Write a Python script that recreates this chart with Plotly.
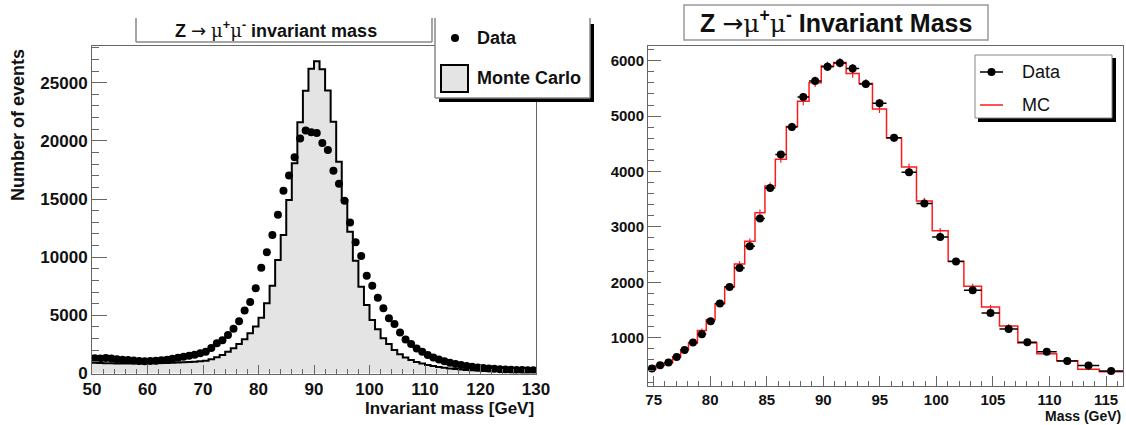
import numpy as np
import plotly.graph_objects as go

W, H = 1126, 425

# ---------------- Left panel: Z -> mu mu invariant mass (1 GeV bins, 50-130) ----------------
left_edges = list(range(50, 131))
left_data = [
    1320, 1300, 1330, 1280, 1220, 1180, 1150, 1120, 1080, 1060,
    1080, 1100, 1130, 1190, 1260, 1360, 1440, 1520, 1610, 1740,
    1880, 2200, 2600, 2850, 3300, 3850, 4500, 5420, 6150, 7330,
    9100, 10420, 11900, 13650, 15720, 17020, 18590, 20200, 20880, 20740,
    20680, 19820, 19220, 17430, 16310, 14850, 12980, 11290, 10100, 8410,
    7540, 6520, 5606, 4760, 4260, 3530, 2930, 2540, 2150, 1880,
    1580, 1370, 1210, 1060, 930, 820, 730, 650, 580, 520,
    470, 430, 400, 370, 350, 330, 310, 300, 290, 280,
]
left_mc = [
    930, 910, 890, 880, 870, 870, 870, 870, 870, 875,
    880, 885, 895, 910, 925, 945, 965, 990, 1020, 1060,
    1100, 1220, 1390, 1590, 1880, 2170, 2540, 2940, 3450, 4030,
    4800, 6030, 7550, 9760, 11910, 14920, 18070, 21600, 24300, 26200,
    26850, 26150, 24320, 21650, 18210, 14920, 12190, 9700, 7460, 5890,
    4600, 3800, 3030, 2540, 2020, 1650, 1380, 1150, 990, 850,
    730, 640, 560, 500, 440, 390, 350, 310, 280, 260,
    240, 225, 215, 205, 200, 195, 190, 185, 180, 175,
]

# ---------------- Right panel: variable-width bins ----------------
right_edges = [
    74.50, 75.20, 75.94, 76.68, 77.39, 78.08, 78.87, 79.65, 80.43, 81.28,
    82.14, 83.05, 83.96, 84.84, 85.76, 86.73, 87.72, 88.74, 89.82, 90.92,
    92.02, 93.17, 94.35, 95.59, 96.92, 98.24, 99.63, 101.04, 102.43, 103.99,
    105.58, 107.20, 108.88, 110.64, 112.50, 114.40, 116.50,
]
right_data = [
    444, 504, 552, 650, 776, 912, 1063, 1298, 1615, 1915,
    2260, 2652, 3150, 3704, 4305, 4805, 5345, 5634, 5892, 5958,
    5857, 5580, 5230, 4610, 3985, 3420, 2818, 2375, 1855, 1446,
    1157, 916, 748, 581, 500, 400,
]
right_mc = [
    430, 498, 548, 655, 782, 905, 1130, 1322, 1612, 1920,
    2330, 2740, 3255, 3740, 4222, 4812, 5268, 5600, 5905, 5965,
    5770, 5590, 5128, 4605, 4080, 3465, 2928, 2378, 1930, 1555,
    1212, 905, 712, 583, 432, 383,
]

FONT = "Liberation Sans"


def X(p):
    return p / W


def Y(p):
    return 1 - p / H


fig = go.Figure()

# left: MC histogram (filled) and data points
lc = [(a + b) / 2 for a, b in zip(left_edges[:-1], left_edges[1:])]
fig.add_trace(go.Scatter(
    x=left_edges, y=left_mc + [left_mc[-1]], mode="lines",
    line=dict(shape="hv", color="black", width=2),
    fill="tozeroy", fillcolor="#e4e4e4", xaxis="x", yaxis="y",
    name="Monte Carlo", hoverinfo="skip"))
fig.add_trace(go.Scatter(
    x=lc, y=left_data, mode="markers",
    marker=dict(color="black", size=8), xaxis="x", yaxis="y", name="Data"))

# right: MC step line, MC errors, data with errors
rc = [(a + b) / 2 for a, b in zip(right_edges[:-1], right_edges[1:])]
rhw = [(b - a) / 2 for a, b in zip(right_edges[:-1], right_edges[1:])]
fig.add_trace(go.Scatter(
    x=right_edges, y=right_mc + [right_mc[-1]], mode="lines",
    line=dict(shape="hv", color="#ff1a1a", width=1.5),
    xaxis="x2", yaxis="y2", name="MC"))
fig.add_trace(go.Scatter(
    x=rc, y=right_mc, mode="markers",
    marker=dict(size=1, color="rgba(0,0,0,0)"),
    error_y=dict(type="data", array=list(np.sqrt(right_mc)), color="#ff1a1a",
                 thickness=1.2, width=0),
    xaxis="x2", yaxis="y2", showlegend=False))
fig.add_trace(go.Scatter(
    x=rc, y=right_data, mode="markers",
    marker=dict(color="black", size=8),
    error_x=dict(type="data", array=rhw, color="black", thickness=1.5, width=0),
    error_y=dict(type="data", array=list(np.sqrt(right_data)), color="black",
                 thickness=1.5, width=0),
    xaxis="x2", yaxis="y2", name="Data"))

ax = dict(showline=True, mirror=True, linecolor="#666", linewidth=1,
          ticks="inside", tickcolor="#666", tickwidth=1, automargin=False,
          showgrid=False, zeroline=False, tickformat="d")

fig.update_layout(
    width=W, height=H, margin=dict(l=0, r=0, t=0, b=0),
    plot_bgcolor="white", paper_bgcolor="white", showlegend=False,
    xaxis=dict(domain=[X(92), X(536)], range=[50, 130], tick0=50, dtick=10,
               ticklen=9, anchor="y",
               minor=dict(dtick=2, tick0=50, ticklen=5, ticks="inside", tickcolor="#666"),
               tickfont=dict(family=FONT, size=17, color="#111", weight="bold"), **ax),
    yaxis=dict(domain=[Y(373.5), Y(46)], range=[0, 28155], tick0=0, dtick=5000,
               ticklen=15, anchor="x",
               minor=dict(dtick=1000, tick0=0, ticklen=7, ticks="inside", tickcolor="#666"),
               tickfont=dict(family=FONT, size=17, color="#111", weight="bold"), **ax),
    xaxis2=dict(domain=[X(648), X(1123)], range=[74.5, 116.5], tick0=75, dtick=5,
                ticklen=10, anchor="y2",
                minor=dict(dtick=1, tick0=75, ticklen=5, ticks="inside", tickcolor="#666"),
                tickfont=dict(family=FONT, size=15, color="#111", weight="bold"), **ax),
    yaxis2=dict(domain=[Y(385.5), Y(46)], range=[137, 6265], tick0=0, dtick=1000,
                ticklen=13, anchor="x2",
                minor=dict(dtick=200, tick0=0, ticklen=6, ticks="inside", tickcolor="#666"),
                tickfont=dict(family=FONT, size=15, color="#111", weight="bold"), **ax),
)

shapes = []
ann = []


def line(x0, y0, x1, y1, color="#888", width=1.5):
    shapes.append(dict(type="line", xref="paper", yref="paper",
                       x0=X(x0), y0=Y(y0), x1=X(x1), y1=Y(y1),
                       line=dict(color=color, width=width)))


def rect(x0, y0, x1, y1, fill, color=None, width=0):
    shapes.append(dict(type="rect", xref="paper", yref="paper",
                       x0=X(x0), y0=Y(y0), x1=X(x1), y1=Y(y1),
                       fillcolor=fill,
                       line=dict(color=color or fill, width=width)))


def text(t, x, y, size, xanchor="center", bold=True, angle=0, color="#111"):
    ann.append(dict(text=t, xref="paper", yref="paper", x=X(x), y=Y(y),
                    xanchor=xanchor, yanchor="middle", showarrow=False,
                    textangle=angle,
                    font=dict(family=FONT, size=size, color=color,
                              weight="bold" if bold else "normal")))


MU = '<span style="font-family:DejaVu Serif;font-weight:normal">μ</span>'
ARR = '<span style="font-family:DejaVu Sans;font-weight:normal">→</span>'

# ---- left title box (top cut off) ----
rect(136, 18, 432, 42, "white")
line(136, 18, 136, 42)
line(432, 18, 432, 42)
line(136, 42, 432, 42)
text(f"Z {ARR} {MU}<sup>+</sup>{MU}<sup>-</sup> invariant mass", 276, 30, 18)

# ---- left legend ----
rect(439, 24, 594, 102, "black")
rect(435, 18, 590, 98, "white")
line(435, 18, 435, 98)
line(435, 98, 590, 98)
line(590, 18, 590, 98)
shapes.append(dict(type="circle", xref="paper", yref="paper",
                   x0=X(451), x1=X(459), y0=Y(34), y1=Y(42),
                   fillcolor="black", line=dict(color="black", width=0)))
text("Data", 475, 38, 18, xanchor="left")
rect(441, 65, 468, 92, "#e4e4e4", "black", 2)
text("Monte Carlo", 475, 78, 18, xanchor="left")

# ---- left axis titles ----
text("Number of events", 18, 125, 18, angle=-90)
text("Invariant mass [GeV]", 536, 408, 17, xanchor="right")

# ---- right title box ----
rect(684, 5, 988, 40, "white", "#999", 1.5)
text(f"Z {ARR}{MU}<sup>+</sup>{MU}<sup>-</sup> Invariant Mass", 836, 22, 25)

# ---- right legend ----
rect(978, 58, 1116, 122, "black")
rect(975, 55, 1112, 118, "white", "#888", 1)
line(980, 72, 1003, 72, "black", 1.5)
shapes.append(dict(type="circle", xref="paper", yref="paper",
                   x0=X(987.5), x1=X(995.5), y0=Y(68), y1=Y(76),
                   fillcolor="black", line=dict(color="black", width=0)))
text("Data", 1020, 72, 18, xanchor="left", bold=False)
line(980, 105, 1003, 105, "#ff1a1a", 1.5)
text("MC", 1020, 105, 18, xanchor="left", bold=False)

# ---- right axis title ----
text("Mass (GeV)", 1123, 416, 14, xanchor="right")

fig.update_layout(shapes=shapes, annotations=ann)
fig.write_html(
    "out.html",
    config={"displayModeBar": False},
    post_script="document.body.style.margin='0px';document.body.style.overflow='hidden';",
)
